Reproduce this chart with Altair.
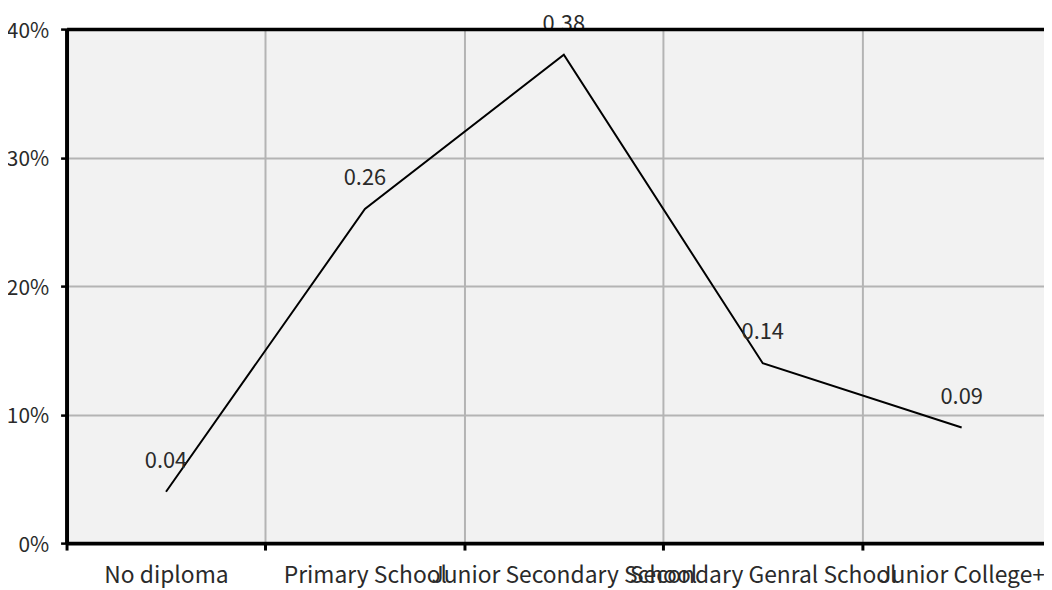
import json
import altair as alt
import pandas as pd

categories = ["No diploma", "Primary School", "Junior Secondary School",
              "Secondary Genral School", "Junior College+"]
shares = [0.04, 0.26, 0.38, 0.14, 0.09]
y_ticks = [0, 0.1, 0.2, 0.3, 0.4]
labels = ["0.04", "0.26", "0.38", "0.14", "0.09"]

positions = list(range(len(categories)))
boundaries = [p - 0.5 for p in positions]          # band edges: ticks and grid
visible_bands = [-0.5, 4.414]                       # last band runs past the right edge

df = pd.DataFrame({"pos": positions, "level": categories,
                   "share": shares, "label": labels})

FONT = "Noto Sans CJK SC"
TXT = "#2a2a2a"
GRID = "#b4b4b4"

label_expr = json.dumps(categories) + "[round(datum.value)]"

xscale = alt.Scale(domain=visible_bands, nice=False, zero=False, padding=0)
yscale = alt.Scale(domain=[0, 0.4], nice=False, zero=True)

yaxis = alt.Axis(title=None, values=y_ticks, format=".0%", labelFontSize=21,
                 labelFont=FONT, labelColor=TXT, labelPadding=12, labelOffset=2,
                 tickSize=6, tickWidth=2.5, tickColor="black",
                 domainColor="black", domainWidth=4,
                 grid=True, gridColor=GRID, gridWidth=2)

# category names centred in their bands
line = alt.Chart(df).mark_line(color="black", strokeWidth=2).encode(
    x=alt.X("pos:Q", scale=xscale,
            axis=alt.Axis(title=None, orient="bottom", values=positions,
                          labelExpr=label_expr, labelAngle=0, labelFontSize=23,
                          labelFont=FONT, labelColor=TXT, labelPadding=15,
                          labelOverlap=False, labelLimit=0, labelFlush=False,
                          labelBound=False, tickSize=7, tickOpacity=0,
                          domain=False, grid=False)),
    y=alt.Y("share:Q", scale=yscale, axis=yaxis),
)

# value labels; their axis gives the black line along the top
text = alt.Chart(df).mark_text(dy=-31, fontSize=22, font=FONT, color=TXT,
                               baseline="middle").encode(
    x=alt.X("pos:Q", scale=xscale,
            axis=alt.Axis(orient="top", title=None, labels=False, ticks=False,
                          grid=False, domainColor="black", domainWidth=3.5, zindex=2)),
    y=alt.Y("share:Q", scale=yscale, axis=yaxis),
    text="label:N",
)

# invisible points carrying the bottom axis with ticks and grid on band edges
edges = alt.Chart(df).mark_point(opacity=0).encode(
    x=alt.X("pos:Q", scale=xscale,
            axis=alt.Axis(title=None, orient="bottom", values=boundaries,
                          labels=False, tickSize=7, tickWidth=3, tickColor="black",
                          domainColor="black", domainWidth=4,
                          grid=True, gridColor=GRID, gridWidth=2)),
    y=alt.Y("share:Q", scale=yscale, axis=yaxis),
)

chart = alt.layer(edges, line, text).resolve_axis(x="independent").properties(
    width=985, height=518,
    padding={"left": 59, "top": 19, "right": 0, "bottom": 45},
    autosize=alt.AutoSizeParams(type="none"),
).configure_view(fill="#f2f2f2", stroke=None)

chart.save("out.html", embed_options={"renderer": "svg", "actions": False})
